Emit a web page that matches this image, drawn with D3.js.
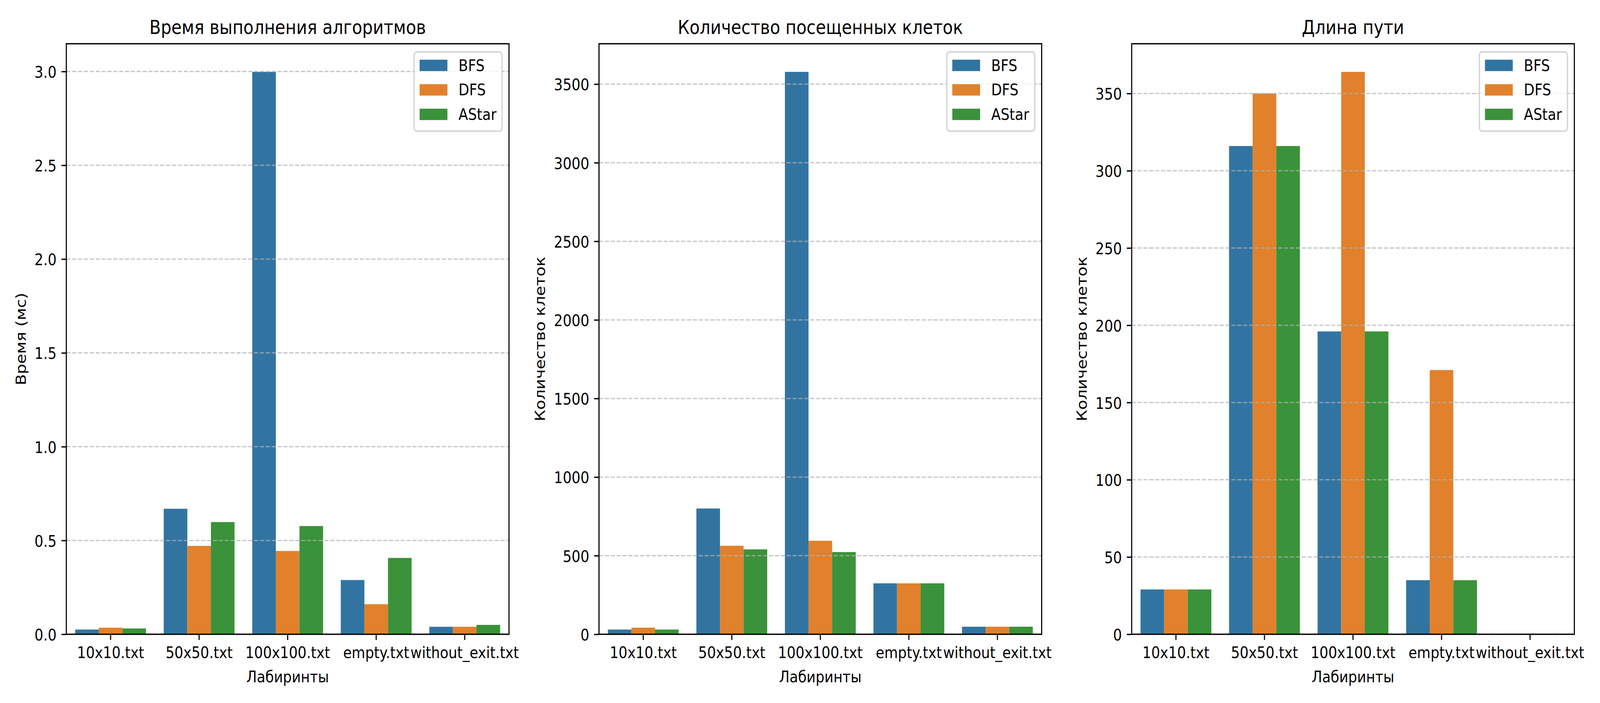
<!DOCTYPE html>
<html>
<head>
<meta charset="utf-8">
<script src="https://cdn.jsdelivr.net/npm/d3@7"></script>
<style>
  html, body { margin: 0; padding: 0; background: #fff; overflow: hidden; }
  #chart svg { display: block; width: 100vw; height: 100vh; }
  text { font-family: "DejaVu Sans", sans-serif; fill: #000; }
</style>
</head>
<body>
<div id="chart"></div>
<script>
// Data
var mazes = ["10x10.txt", "50x50.txt", "100x100.txt", "empty.txt", "without_exit.txt"];
var algorithms = ["BFS", "DFS", "AStar"];
var colors = ["#3274a1", "#e1812c", "#3a923a"];

// execution time, ms
var timeBFS   = [0.025, 0.669, 2.998, 0.289, 0.040];
var timeDFS   = [0.035, 0.471, 0.444, 0.160, 0.040];
var timeAStar = [0.031, 0.598, 0.577, 0.407, 0.050];

// visited cells
var cellsBFS   = [30, 800, 3578, 324, 48];
var cellsDFS   = [42, 563, 595, 324, 48];
var cellsAStar = [30, 540, 523, 324, 48];

// path length
var pathBFS   = [29, 316, 196, 35, 0];
var pathDFS   = [29, 350, 364, 171, 0];
var pathAStar = [29, 316, 196, 35, 0];

var timeTicks  = [0, 0.5, 1.0, 1.5, 2.0, 2.5, 3.0];
var cellsTicks = [0, 500, 1000, 1500, 2000, 2500, 3000, 3500];
var pathTicks  = [0, 50, 100, 150, 200, 250, 300, 350];

var titles = ["Время выполнения алгоритмов", "Количество посещенных клеток", "Длина пути"];
var yLabels = ["Время (мс)", "Количество клеток", "Количество клеток"];
var xLabel = "Лабиринты";

var panels = [
  {series: [timeBFS, timeDFS, timeAStar], ticks: timeTicks, fmt: d3.format(".1f")},
  {series: [cellsBFS, cellsDFS, cellsAStar], ticks: cellsTicks, fmt: d3.format("d")},
  {series: [pathBFS, pathDFS, pathAStar], ticks: pathTicks, fmt: d3.format("d")}
];

// layout (300 dpi, matplotlib-like sizes) in a 4800x1800 drawing space
var W = 4800, H = 1800;
var fs = 41.67;          // 10pt
var titleFs = 50;        // 12pt
var lw = 3.33;           // 0.8pt
var tickLen = 14.6;
var lefts = [199, 1797, 3395];
var axW = 1328, axTop = 112, axH = 1512;

// the drawing space is stretched over the whole window
var svg = d3.select("#chart").append("svg")
  .attr("viewBox", "0 0 " + W + " " + H)
  .attr("preserveAspectRatio", "none");

svg.append("rect").attr("width", W).attr("height", H).attr("fill", "#fff");

panels.forEach(function(p, pi) {
  var g = svg.append("g")
    .attr("transform", "translate(" + lefts[pi] + "," + axTop + ")");

  var x = d3.scaleBand().domain(mazes).range([0, axW]).padding(0);
  var xs = d3.scaleBand().domain(algorithms)
    .range([x.bandwidth() * 0.1, x.bandwidth() * 0.9]).padding(0);
  var maxV = d3.max(p.series, function(s) { return d3.max(s); });
  var y = d3.scaleLinear().domain([0, maxV * 1.05]).range([axH, 0]);

  // bars
  p.series.forEach(function(s, si) {
    g.append("g").selectAll("rect")
      .data(s)
      .enter().append("rect")
      .attr("x", function(d, i) { return x(mazes[i]) + xs(algorithms[si]); })
      .attr("y", function(d) { return y(d); })
      .attr("width", xs.bandwidth())
      .attr("height", function(d) { return axH - y(d); })
      .attr("fill", colors[si]);
  });

  // horizontal dashed grid, on top of bars like matplotlib
  g.append("g").selectAll("line")
    .data(p.ticks)
    .enter().append("line")
    .attr("x1", 0).attr("x2", axW)
    .attr("y1", function(d) { return y(d); })
    .attr("y2", function(d) { return y(d); })
    .attr("stroke", "#b0b0b0")
    .attr("stroke-opacity", 0.7)
    .attr("stroke-width", lw)
    .attr("stroke-dasharray", "12.3,5.3");

  // y axis
  var yAxis = g.append("g")
    .call(d3.axisLeft(y).tickValues(p.ticks).tickFormat(p.fmt)
      .tickSize(tickLen).tickPadding(tickLen));
  yAxis.select(".domain").remove();
  yAxis.selectAll(".tick line").attr("stroke", "#000").attr("stroke-width", lw);
  yAxis.selectAll(".tick text")
    .attr("font-size", fs)
    .attr("font-family", "DejaVu Sans")
    .attr("dy", "0.37em");

  // x axis
  var xAxis = g.append("g")
    .attr("transform", "translate(0," + axH + ")")
    .call(d3.axisBottom(x).tickSize(tickLen).tickPadding(tickLen));
  xAxis.select(".domain").remove();
  xAxis.selectAll(".tick line").attr("stroke", "#000").attr("stroke-width", lw);
  xAxis.selectAll(".tick text")
    .attr("font-size", fs)
    .attr("font-family", "DejaVu Sans")
    .attr("dy", null)
    .attr("y", 61);

  // spines
  g.append("rect")
    .attr("x", 0).attr("y", 0)
    .attr("width", axW).attr("height", axH)
    .attr("fill", "none")
    .attr("stroke", "#000")
    .attr("stroke-width", lw);

  // title
  g.append("text")
    .attr("x", axW / 2)
    .attr("y", -25)
    .attr("text-anchor", "middle")
    .attr("font-size", titleFs)
    .text(titles[pi]);

  // x label
  g.append("text")
    .attr("x", axW / 2)
    .attr("y", axH + 123)
    .attr("text-anchor", "middle")
    .attr("font-size", fs)
    .text(xLabel);

  // y label, placed left of the widest tick label
  var minX = 0;
  yAxis.selectAll(".tick text").each(function() {
    var b = this.getBBox();
    minX = Math.min(minX, b.x);
  });
  var lx = minX - 16.7 - 0.236 * fs;
  g.append("text")
    .attr("transform", "translate(" + lx + "," + (axH / 2) + ") rotate(-90)")
    .attr("text-anchor", "middle")
    .attr("font-size", fs)
    .text(yLabels[pi]);

  // legend (upper right)
  var leg = g.append("g");
  var box = leg.append("rect");
  var labels = [];
  algorithms.forEach(function(a, ai) {
    var rowY = 0.48 * fs + ai * 1.505 * fs;
    leg.append("rect")
      .attr("x", 0.4 * fs)
      .attr("y", rowY)
      .attr("width", 2 * fs)
      .attr("height", 0.7 * fs)
      .attr("fill", colors[ai]);
    labels.push(leg.append("text")
      .attr("x", 0.4 * fs + 2 * fs + 0.8 * fs)
      .attr("y", rowY + 0.35 * fs + 0.34 * fs)
      .attr("font-size", fs)
      .text(a));
  });
  var tw = d3.max(labels, function(t) { return t.node().getComputedTextLength(); });
  var legW = 0.4 * fs + 2 * fs + 0.8 * fs + tw + 0.4 * fs;
  var legH = 4.87 * fs;
  box.attr("x", 0).attr("y", 0)
    .attr("width", legW).attr("height", legH)
    .attr("rx", 8.3)
    .attr("fill", "#fff").attr("fill-opacity", 0.8)
    .attr("stroke", "#cccccc").attr("stroke-opacity", 0.8)
    .attr("stroke-width", 4.17);
  leg.attr("transform", "translate(" + (axW - 0.5 * fs - legW) + "," + (0.5 * fs) + ")");
});
</script>
</body>
</html>
